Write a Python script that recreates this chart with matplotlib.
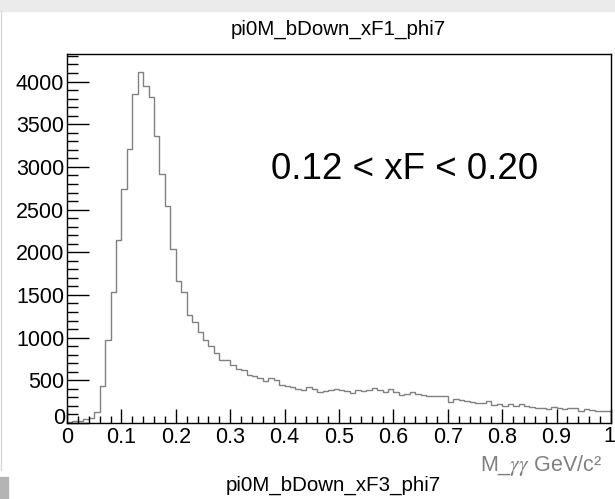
import numpy as np
import matplotlib
matplotlib.use("Agg")
import matplotlib.pyplot as plt
from matplotlib.patches import Rectangle
from matplotlib.ticker import MultipleLocator

plt.rcParams.update({'font.family': ['Liberation Sans', 'DejaVu Sans'],
                     'mathtext.fontset': 'stix'})

# histogram: 100 bins from 0 to 1 (M_gg in GeV/c^2)
bin_edges = np.linspace(0.0, 1.0, 101)
counts = [
    10, 20, 27, 43, 62, 129, 437, 970, 1532, 2140,
    2737, 3208, 3852, 4117, 3953, 3817, 3368, 2920, 2538, 2035,
    1665, 1529, 1271, 1185, 1068, 971, 904, 822, 737, 737,
    678, 632, 625, 561, 550, 522, 491, 530, 503, 444,
    433, 417, 398, 386, 425, 394, 366, 374, 386, 402,
    386, 374, 347, 386, 374, 386, 413, 386, 366, 398,
    366, 327, 335, 366, 335, 327, 320, 320, 320, 320,
    250, 281, 269, 261, 250, 230, 230, 261, 211, 222,
    199, 222, 199, 218, 203, 183, 179, 172, 160, 191,
    179, 164, 179, 172, 144, 160, 152, 140, 140, 140,
]
title_top = "pi0M_bDown_xF1_phi7"
title_next = "pi0M_bDown_xF3_phi7"
xf_label = "0.12 < xF < 0.20"
x_label = r"M_$\gamma\gamma$ GeV/c²"

W, H = 615, 499
fig = plt.figure(figsize=(W / 100, H / 100), dpi=100)

# grey canvas band at top and pad edge at the bottom left
fig.patches.append(Rectangle((0, 1 - 11 / H), 1, 11 / H, transform=fig.transFigure,
                             color='#ebebeb', zorder=0))
fig.patches.append(Rectangle((0, 0), 8 / W, 22 / H, transform=fig.transFigure,
                             color='#b4b4b4', zorder=0))
fig.add_artist(plt.Line2D([1 / W, 1 / W], [1 - 470 / H, 1 - 11 / H], transform=fig.transFigure,
                          color='#d8d8d8', lw=1))

ax = fig.add_axes([67 / W, 1 - 423 / H, 544 / W, 369 / H])
ax.stairs(counts, bin_edges, color='#808080', lw=1)

ax.set_xlim(0, 1)
ax.set_ylim(0, 1.05 * max(counts))

ax.xaxis.set_major_locator(MultipleLocator(0.1))
ax.xaxis.set_minor_locator(MultipleLocator(0.02))
ax.yaxis.set_major_locator(MultipleLocator(500))
ax.yaxis.set_minor_locator(MultipleLocator(100))
# corner labels are drawn by hand below (ROOT shifts them)
ax.xaxis.set_major_formatter(plt.FuncFormatter(
    lambda v, p: "" if abs(v - 1) < 1e-6 else "%g" % round(v, 2)))
ax.yaxis.set_major_formatter(plt.FuncFormatter(
    lambda v, p: "" if abs(v) < 1e-6 else "%d" % v))
ax.tick_params(axis='both', which='both', direction='in', labelsize=15.5, color='black')
ax.tick_params(axis='x', which='major', length=10, width=1, pad=3)
ax.tick_params(axis='x', which='minor', length=5, width=1)
ax.tick_params(axis='y', which='major', length=16, width=1, pad=2)
ax.tick_params(axis='y', which='minor', length=8, width=1)
for s in ax.spines.values():
    s.set_linewidth(1.0)
    s.set_color('black')

ax.annotate("0", xy=(0, 0), xycoords='axes fraction', xytext=(-1.5, 3.5),
            textcoords='offset points', ha='right', va='center', fontsize=15.5)
ax.annotate("1", xy=(1, 0), xycoords='axes fraction', xytext=(-1.5, -2.2),
            textcoords='offset points', ha='center', va='top', fontsize=15.5)

ax.text(0.62, 0.661, xf_label, transform=ax.transAxes, ha='center', va='baseline', fontsize=26.5)

fig.text(338 / W, 1 - 29 / H, title_top, ha='center', va='center', fontsize=14.8)
fig.text(602 / W, 1 - 466 / H, x_label, ha='right', va='center', fontsize=15.5, color='#808080')
fig.text(333 / W, 1 - 485 / H, title_next, ha='center', va='center', fontsize=14.8)

fig.savefig("out.png", dpi=100)
